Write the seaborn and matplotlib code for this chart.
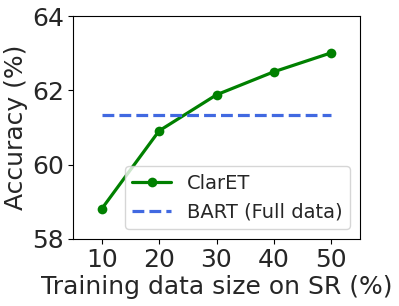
import matplotlib
matplotlib.use("Agg")
import matplotlib.pyplot as plt
import seaborn as sns
import pandas as pd

sizes = [10, 20, 30, 40, 50]
claret = [58.81, 60.91, 61.88, 62.50, 63.01]
bart_full = 61.33
xticks = [10, 20, 30, 40, 50]
yticks = [58, 60, 62, 64]

sns.set_style("ticks")
plt.rcParams['font.family'] = ['DejaVu Sans']

df = pd.DataFrame({"size": sizes, "acc": claret})
dfb = pd.DataFrame({"size": sizes, "acc": [bart_full] * len(sizes)})

fig = plt.figure(figsize=(3.99, 3.06), dpi=100)
ax = fig.add_axes([73/399, 1 - 239/306, (360-73)/399, (239-16)/306])
sns.lineplot(data=df, x="size", y="acc", ax=ax, color="green", marker="o",
             markersize=7, linewidth=2.3, markeredgewidth=0, label="ClarET")
sns.lineplot(data=dfb, x="size", y="acc", ax=ax, color="royalblue",
             linestyle="--", linewidth=2.3, label="BART (Full data)")
ax.set_xlim(5, 55)
ax.set_ylim(58, 64)
ax.set_xticks(xticks)
ax.set_yticks(yticks)
ax.tick_params(labelsize=18, length=3.5, width=0.8, color="black", pad=3)
ax.set_xlabel("Training data size on SR (%)", fontsize=18, labelpad=2)
ax.set_ylabel("Accuracy (%)", fontsize=18, labelpad=3)
for s in ax.spines.values():
    s.set_color("black")
    s.set_linewidth(0.8)
ax.legend(loc="lower right", fontsize=14, framealpha=0.8, handlelength=2)
fig.savefig("out.png", dpi=100)
